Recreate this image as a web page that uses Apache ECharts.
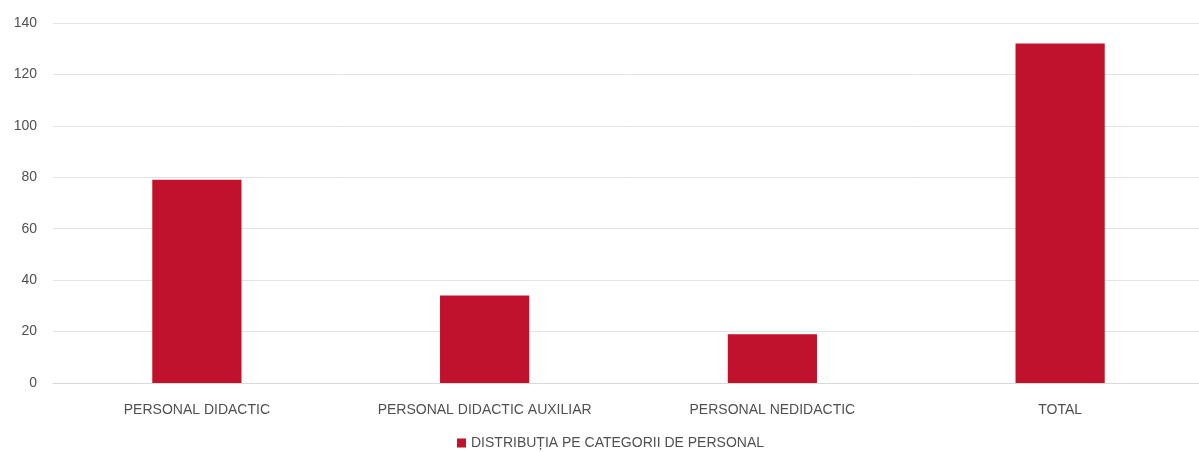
<!DOCTYPE html>
<html>
<head>
<meta charset="utf-8">
<script src="https://cdn.jsdelivr.net/npm/echarts@6/dist/echarts.min.js"></script>
<style>
html,body{margin:0;padding:0;background:#fff;overflow:hidden;}
#c{width:1210px;height:452px;}
</style>
</head>
<body>
<div id="c"></div>
<script>
const categories = ["PERSONAL DIDACTIC", "PERSONAL DIDACTIC AUXILIAR", "PERSONAL NEDIDACTIC", "TOTAL"];
const values = [79, 34, 19, 132];
const seriesName = "DISTRIBUȚIA PE CATEGORII DE PERSONAL";
const yTicks = { min: 0, max: 140, interval: 20 };

const chart = echarts.init(document.getElementById('c'), null, { renderer: 'canvas' });
const font = '"Liberation Sans", Arial, sans-serif';
chart.setOption({
  animation: false,
  backgroundColor: '#ffffff',
  textStyle: { fontFamily: font },
  legend: {
    data: [seriesName],
    top: 431,
    left: 452,
    itemWidth: 9,
    itemHeight: 9,
    icon: 'rect',
    itemGap: 5,
    textStyle: { color: '#505050', fontSize: 14, fontFamily: font }
  },
  grid: { left: 53, top: 23, width: 1151, height: 360, containLabel: false },
  xAxis: {
    type: 'category',
    data: categories,
    axisLine: { show: true, lineStyle: { color: '#d9d9d9' } },
    axisTick: { show: false },
    axisLabel: { color: '#505050', fontSize: 14, margin: 20, fontFamily: font }
  },
  yAxis: {
    type: 'value',
    min: yTicks.min,
    max: yTicks.max,
    interval: yTicks.interval,
    axisLine: { show: false },
    axisTick: { show: false },
    splitLine: { lineStyle: { color: '#e3e3e3' } },
    axisLabel: { color: '#505050', fontSize: 14, margin: 16, fontFamily: font }
  },
  series: [{
    name: seriesName,
    type: 'bar',
    data: values,
    barWidth: '31%',
    itemStyle: { color: '#c0122c' }
  }]
});
</script>
</body>
</html>
